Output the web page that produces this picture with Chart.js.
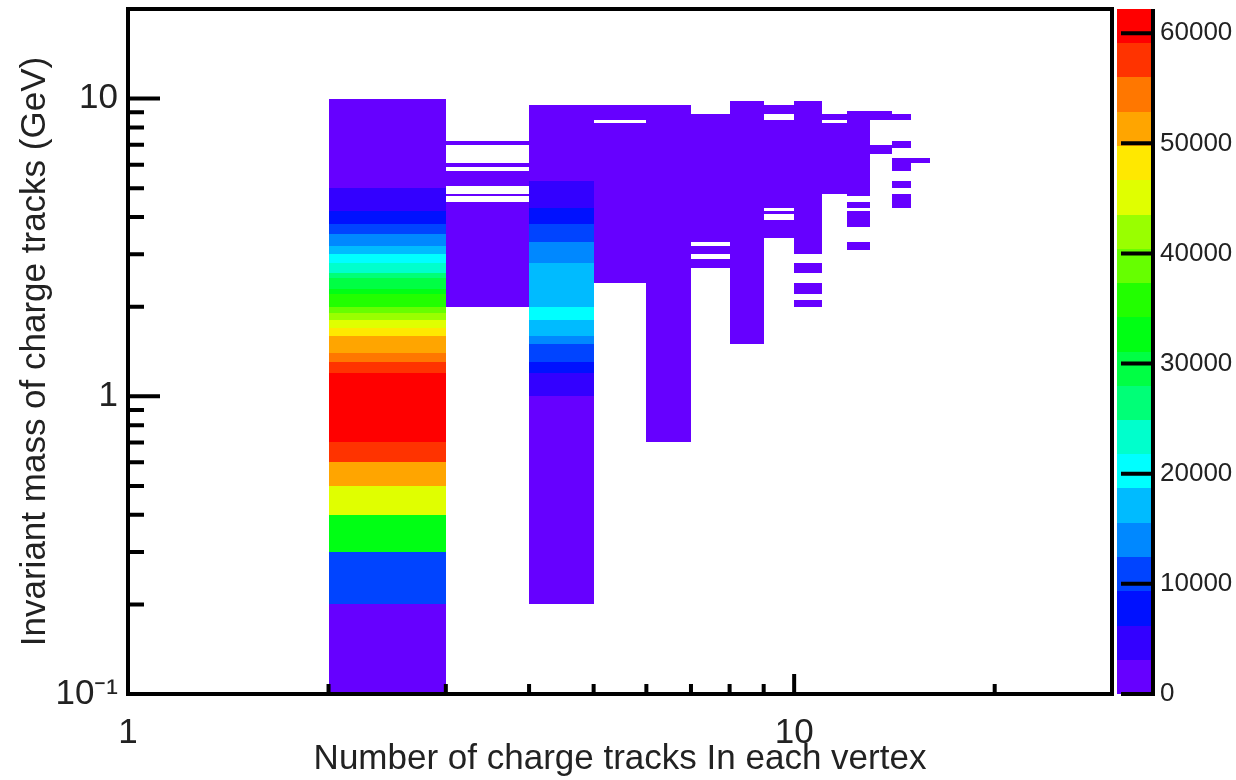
<!DOCTYPE html>
<html>
<head>
<title>Invariant mass vs charge tracks</title>
<script src="https://cdn.jsdelivr.net/npm/chart.js"></script>
<style>
  html, body { margin: 0; padding: 0; background: #fff; }
</style>
</head>
<body>
<canvas id="massChart" width="1236" height="780"></canvas>

<script>
// x bins: number of charge tracks, each bin spans [n, n+1)
const trackBins = [2, 3, 4, 5, 6, 7, 8, 9, 10, 11, 12, 13, 14, 15];

// per track bin: [mass low (GeV), mass high (GeV), entries]
const col2 = [[0.1, 0.2, 1900], [0.2, 0.3, 10800], [0.3, 0.4, 32900], [0.4, 0.5, 45100],
              [0.5, 0.6, 51300], [0.6, 0.7, 57600], [0.7, 1.2, 62200], [1.2, 1.3, 57200],
              [1.3, 1.4, 54100], [1.4, 1.6, 51000], [1.6, 1.7, 48200], [1.7, 1.8, 44900],
              [1.8, 1.9, 41800], [1.9, 2.0, 38600], [2.0, 2.2, 35600], [2.2, 2.3, 32400],
              [2.3, 2.5, 29400], [2.5, 2.6, 26500], [2.6, 2.8, 23200], [2.8, 3.0, 20100],
              [3.0, 3.2, 17000], [3.2, 3.5, 14100], [3.5, 3.8, 10900], [3.8, 4.2, 7700],
              [4.2, 5.0, 4600], [5.0, 10.0, 1400]];
const col3 = [[2.0, 4.5, 1200], [4.7, 4.8, 300], [5.1, 5.7, 500], [5.9, 6.1, 200], [7.0, 7.2, 100]];
const col4 = [[0.2, 1.0, 1600], [1.0, 1.2, 4800], [1.2, 1.3, 8000], [1.3, 1.5, 11200],
              [1.5, 1.6, 14500], [1.6, 1.8, 17800], [1.8, 2.0, 20500], [2.0, 2.8, 17500],
              [2.8, 3.3, 14200], [3.3, 3.8, 11000], [3.8, 4.3, 7700], [4.3, 5.3, 4500],
              [5.3, 9.5, 1800]];
const col5 = [[2.4, 8.3, 1300], [8.5, 9.5, 150]];
const col6 = [[0.7, 9.5, 900]];
const col7 = [[2.7, 2.9, 60], [3.0, 3.2, 80], [3.3, 8.9, 500]];
const col8 = [[1.5, 9.8, 400]];
const col9 = [[3.4, 3.9, 70], [4.1, 4.2, 30], [4.3, 8.5, 250], [8.9, 9.5, 40]];
const col10 = [[2.0, 2.1, 20], [2.2, 2.4, 25], [2.6, 2.8, 30], [3.0, 9.8, 150]];
const col11 = [[4.8, 8.3, 90], [8.5, 8.9, 15]];
const col12 = [[3.1, 3.3, 10], [3.7, 4.2, 20], [4.3, 4.5, 15], [4.7, 9.1, 50]];
const col13 = [[6.5, 7.0, 10], [8.5, 9.1, 12]];
const col14 = [[4.3, 4.8, 8], [5.0, 5.3, 6], [5.7, 6.3, 9], [6.8, 7.2, 7], [8.5, 8.9, 5]];
const col15 = [[6.1, 6.3, 4]];
const columns = [col2, col3, col4, col5, col6, col7, col8, col9, col10, col11, col12, col13, col14, col15];

// 20 contour colours, lowest first
const palette = ['#6600ff', '#3300ff', '#0011ff', '#0044ff', '#0088ff', '#00bbff', '#00ffff',
                 '#00ffcc', '#00ff77', '#00ff44', '#00ff14', '#22ff00', '#66ff00', '#99ff00',
                 '#e0ff00', '#ffe800', '#ffa500', '#ff7700', '#ff3300', '#ff0000'];

// tick positions and labels
const xTicks = [1, 2, 3, 4, 5, 6, 7, 8, 9, 10, 20, 30];
const xMajor = [1, 10];
const xLabels = ['1', '10'];
const yTicks = [0.1, 0.2, 0.3, 0.4, 0.5, 0.6, 0.7, 0.8, 0.9, 1, 2, 3, 4, 5, 6, 7, 8, 9, 10, 20];
const yMajor = [0.1, 1, 10];
const yLabels = ['10\u207B\u00B9', '1', '10'];
const zTicks = [0, 10000, 20000, 30000, 40000, 50000, 60000];

const zMax = Math.max(...columns.flat().map(c => c[2]));

function colourOf(count) {
    const level = Math.min(palette.length - 1, Math.floor(count / zMax * palette.length));
    return palette[level];
}

const heatmap = {
    id: 'heatmap',
    beforeDatasetsDraw(chart) {
        const {ctx, chartArea: a, scales: {x, y}} = chart;
        ctx.save();
        ctx.beginPath();
        ctx.rect(a.left, a.top, a.right - a.left, a.bottom - a.top);
        ctx.clip();
        trackBins.forEach((n, i) => {
            const x0 = Math.round(x.getPixelForValue(n));
            const x1 = Math.round(x.getPixelForValue(n + 1));
            columns[i].forEach(([lo, hi, count]) => {
                const y0 = Math.round(y.getPixelForValue(hi));
                const y1 = Math.round(y.getPixelForValue(lo));
                ctx.fillStyle = colourOf(count);
                ctx.fillRect(x0, y0, x1 - x0, y1 - y0);
            });
        });
        ctx.restore();
    },
    afterDraw(chart) {
        const {ctx, chartArea: a, scales: {x, y, z}} = chart;
        ctx.save();
        ctx.strokeStyle = '#000';
        ctx.lineWidth = 4;

        // inward tick marks
        ctx.beginPath();
        xTicks.forEach(v => {
            const px = x.getPixelForValue(v);
            const len = xMajor.includes(v) ? 20 : 10;
            ctx.moveTo(px, a.bottom);
            ctx.lineTo(px, a.bottom - len);
        });
        yTicks.forEach(v => {
            const py = y.getPixelForValue(v);
            const len = yMajor.includes(v) ? 32 : 16;
            ctx.moveTo(a.left, py);
            ctx.lineTo(a.left + len, py);
        });
        ctx.stroke();

        // frame
        ctx.strokeRect(a.left, a.top, a.right - a.left, a.bottom - a.top);

        // colour bar
        const barLeft = a.right + 5;
        const barRight = a.right + 41;
        palette.forEach((c, k) => {
            const y0 = Math.round(z.getPixelForValue((k + 1) * zMax / palette.length));
            const y1 = Math.round(z.getPixelForValue(k * zMax / palette.length));
            ctx.fillStyle = c;
            ctx.fillRect(barLeft, y0, barRight - barLeft, y1 - y0);
        });
        ctx.beginPath();
        ctx.moveTo(barRight, a.top);
        ctx.lineTo(barRight, a.bottom + 2);
        zTicks.forEach(v => {
            const py = z.getPixelForValue(v);
            ctx.moveTo(barRight, py);
            ctx.lineTo(barLeft + 4, py);
        });
        ctx.stroke();
        ctx.restore();
    }
};

const tickFont = {family: '"Liberation Sans", Arial, sans-serif', size: 35};
const titleFont = {family: '"Liberation Sans", Arial, sans-serif', size: 35};

// keep the plot frame where the reference has it: no extra room for edge labels
function noEdgePadding(s) {
    s.paddingTop = 0;
    s.paddingBottom = 0;
    s.paddingLeft = 0;
    s.paddingRight = 0;
}

new Chart(document.getElementById('massChart').getContext('2d'), {
    type: 'scatter',
    data: {datasets: []},
    plugins: [heatmap],
    options: {
        responsive: false,
        animation: false,
        layout: {padding: {top: 9, left: 0, right: 0, bottom: 0}},
        plugins: {legend: {display: false}, tooltip: {enabled: false}},
        scales: {
            x: {
                type: 'logarithmic',
                position: 'bottom',
                min: 1,
                max: 30,
                grid: {display: false, drawTicks: false},
                border: {display: false},
                afterBuildTicks: s => { s.ticks = xTicks.map(v => ({value: v})); },
                afterFit: s => { s.height = 86; noEdgePadding(s); },
                ticks: {
                    autoSkip: false,
                    maxRotation: 0,
                    padding: 18,
                    color: '#222',
                    font: tickFont,
                    callback: v => xMajor.includes(v) ? xLabels[xMajor.indexOf(v)] : ''
                },
                title: {
                    display: true,
                    text: 'Number of charge tracks In each vertex',
                    color: '#222',
                    font: titleFont,
                    padding: {top: 0, bottom: 0}
                }
            },
            y: {
                type: 'logarithmic',
                position: 'left',
                min: 0.1,
                max: 20,
                grid: {display: false, drawTicks: false},
                border: {display: false},
                afterBuildTicks: s => { s.ticks = yTicks.map(v => ({value: v})); },
                afterFit: s => { s.width = 128; noEdgePadding(s); },
                ticks: {
                    autoSkip: false,
                    padding: 10,
                    color: '#222',
                    font: tickFont,
                    callback: v => yMajor.includes(v) ? yLabels[yMajor.indexOf(v)] : ''
                },
                title: {
                    display: true,
                    text: 'Invariant mass of charge tracks (GeV)',
                    color: '#222',
                    font: titleFont,
                    padding: {top: 14, bottom: 0}
                }
            },
            z: {
                type: 'linear',
                position: 'right',
                min: 0,
                max: zMax,
                grid: {display: false, drawTicks: false},
                border: {display: false},
                afterBuildTicks: s => { s.ticks = zTicks.map(v => ({value: v})); },
                afterFit: s => { s.width = 124; noEdgePadding(s); },
                ticks: {
                    autoSkip: false,
                    padding: 48,
                    color: '#222',
                    font: {family: '"Liberation Sans", Arial, sans-serif', size: 26},
                    callback: v => String(v)
                }
            }
        }
    }
});
</script>
</body>
</html>
